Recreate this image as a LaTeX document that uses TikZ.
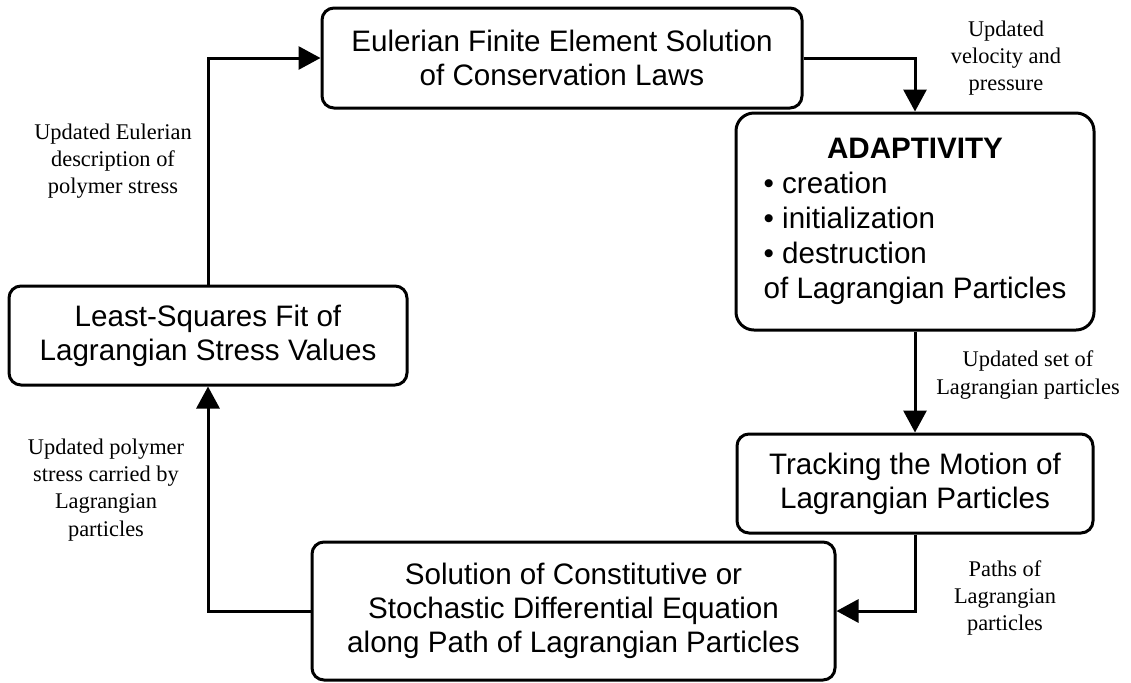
\documentclass[tikz,border=0pt]{standalone}
\usepackage{fontspec}
\setmainfont{Liberation Serif}
\setsansfont{Liberation Sans}
\usetikzlibrary{arrows.meta}

\tikzset{
	block/.style={draw, line width=1.5pt, rounded corners=6pt, inner sep=0pt,
		align=center, font=\sffamily\fontsize{14.8}{17}\selectfont},
	note/.style={align=center, inner sep=0pt, font=\fontsize{11.2}{13.6}\selectfont},
	flow/.style={line width=1.5pt, -{Triangle[length=11pt,width=11.5pt]}},
}

\begin{document}
\begin{tikzpicture}[x=0.5pt, y=-0.5pt]
	\useasboundingbox (0,0) rectangle (1131,682);
	
	\node[block, minimum width=240pt, minimum height=50pt] (euler) at (562,58)
		{Eulerian Finite Element Solution\\of Conservation Laws};
	\node[block, rounded corners=9pt, minimum width=179pt, minimum height=108.5pt,
		font=\sffamily\fontsize{14.8}{17.6}\selectfont] (adapt) at (915,221.5)
		{\begin{tabular}{@{}l@{}}
			\multicolumn{1}{@{}c@{}}{\textbf{ADAPTIVITY}}\\
			• creation\\
			• initialization\\
			• destruction\\
			of Lagrangian Particles
		\end{tabular}};
	\node[block, minimum width=178pt, minimum height=49.5pt] (track) at (915,483.5)
		{Tracking the Motion of\\Lagrangian Particles};
	\node[block, minimum width=261.5pt, minimum height=69pt] (sol) at (573.5,611)
		{Solution of Constitutive or\\Stochastic Differential Equation\\along Path of Lagrangian Particles};
	\node[block, minimum width=199pt, minimum height=49.5pt] (lsq) at (208,335.5)
		{Least-Squares Fit of\\Lagrangian Stress Values};
	
	% connector labels
	\node[note] (velnote) at (1006,58) {Updated\\velocity and\\pressure};
	\node[note] (setnote) at (1028,375) {Updated set of\\Lagrangian particles};
	\node[note] (pathnote) at (1005,598) {Paths of\\Lagrangian\\particles};
	\node[note] (polynote) at (106,490) {Updated polymer\\stress carried by\\Lagrangian\\particles};
	\node[note] (stressnote) at (113,161) {Updated Eulerian\\description of\\polymer stress};
	
	% the loop
	\draw[flow] (euler.east) -| (adapt.north);
	\draw[flow] (adapt.south) -- (track.north);
	\draw[flow] (track.south) |- (sol.east);
	\draw[flow] (sol.west) -| (lsq.south);
	\draw[flow] (lsq.north) |- (euler.west);
\end{tikzpicture}
\end{document}
